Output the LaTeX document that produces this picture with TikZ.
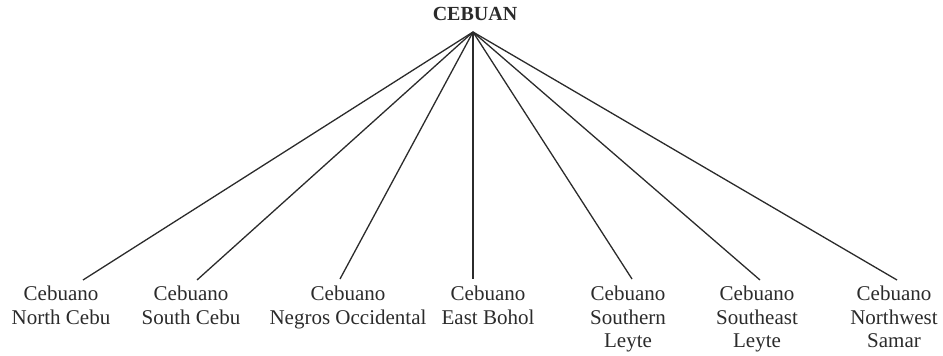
\documentclass[tikz,border=0pt]{standalone}
\usepackage{fontspec}
\setmainfont{Liberation Serif}
\usetikzlibrary{calc}
\definecolor{ink}{HTML}{2B2B2B}

\begin{document}
\begin{tikzpicture}[x=1pt, y=1pt,
  leaf/.style={anchor=north, align=center, inner sep=0pt, text=ink,
    font=\fontsize{21}{23.5}\selectfont},
  branch/.style={draw=ink, line width=1.3pt}]
  \useasboundingbox (0,0) rectangle (943,356);

  % Root
  \node[anchor=base, inner sep=0pt, text=ink, font=\fontsize{20}{22}\selectfont\bfseries]
    (cebuan) at (475,335) {CEBUAN};
  \coordinate (apex) at (473,324);

  % Leaves (top of first line)
  \node[leaf] (northcebu) at (61,70)  {Cebuano\\North Cebu};
  \node[leaf] (southcebu) at (191,70) {Cebuano\\South Cebu};
  \node[leaf] (negros)    at (348,70) {Cebuano\\Negros Occidental};
  \node[leaf] (eastbohol) at (488,70) {Cebuano\\East Bohol};
  \node[leaf] (southleyte) at (628,70) {Cebuano\\Southern\\Leyte};
  \node[leaf] (southeastleyte) at (757,70) {Cebuano\\Southeast\\Leyte};
  \node[leaf] (northwestsamar) at (894,70) {Cebuano\\Northwest\\Samar};

  % Branch ends above the leaves
  \coordinate (northcebu-end)  at (83,76);
  \coordinate (southcebu-end)  at (197,76);
  \coordinate (negros-end)     at (340,77);
  \coordinate (eastbohol-end)  at (473,77);
  \coordinate (southleyte-end) at (632,77);
  \coordinate (southeastleyte-end) at (760,76);
  \coordinate (northwestsamar-end) at (897,76);

  % Branches
  \foreach \leaf in {northcebu, southcebu, negros, eastbohol,
                     southleyte, southeastleyte, northwestsamar}
    \draw[branch] (apex) -- (\leaf-end);
\end{tikzpicture}
\end{document}
